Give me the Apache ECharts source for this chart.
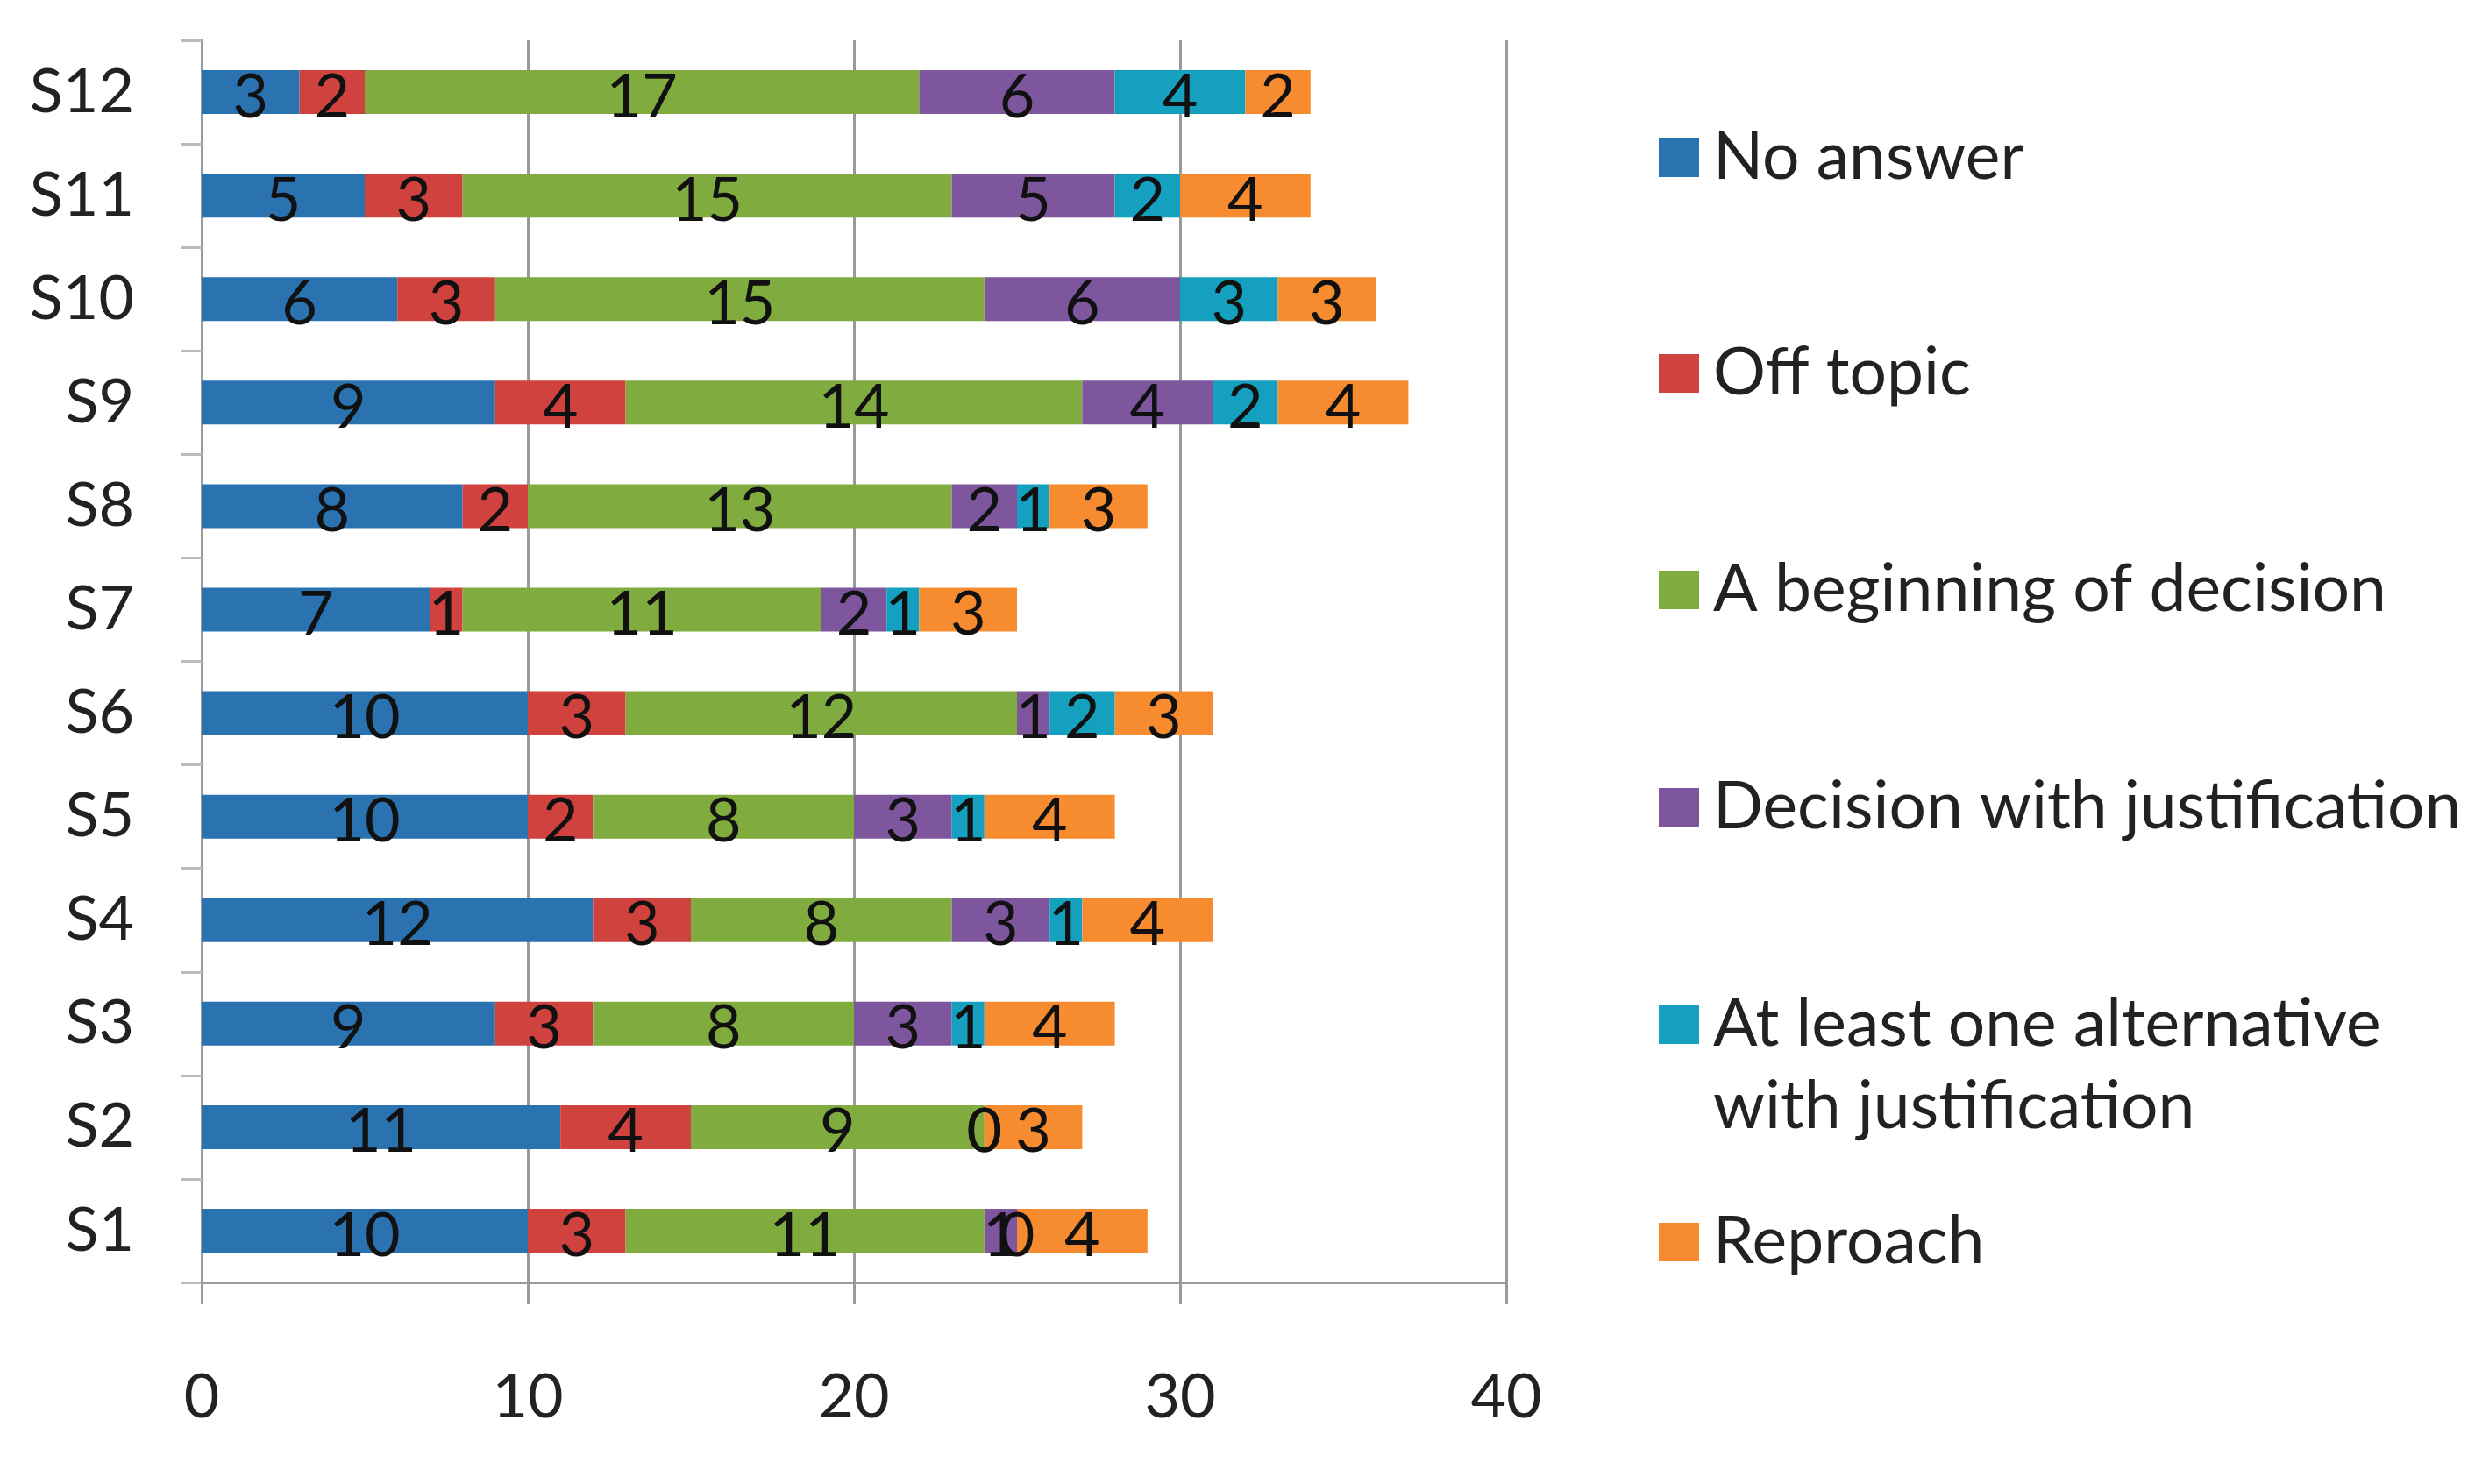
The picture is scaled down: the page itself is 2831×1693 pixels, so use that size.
<!DOCTYPE html>
<html>
<head>
<meta charset="utf-8">
<script src="https://cdn.jsdelivr.net/npm/echarts@6/dist/echarts.min.js"></script>
<style>
html,body{margin:0;padding:0;background:#fff;}
#chart{width:2831px;height:1693px;}
</style>
</head>
<body>
<div id="chart"></div>
<script>
const categories = ['S1','S2','S3','S4','S5','S6','S7','S8','S9','S10','S11','S12'];
const seriesNames = ['No answer','Off topic','A beginning of decision','Decision with justification','At least one alternative with justification','Reproach'];
const noAnswer      = [10, 11, 9, 12, 10, 10, 7, 8, 9, 6, 5, 3];
const offTopic      = [3, 4, 3, 3, 2, 3, 1, 2, 4, 3, 3, 2];
const beginning     = [11, 9, 8, 8, 8, 12, 11, 13, 14, 15, 15, 17];
const decisionJust  = [1, 0, 3, 3, 3, 1, 2, 2, 4, 6, 5, 6];
const alternative   = [0, 0, 1, 1, 1, 2, 1, 1, 2, 3, 2, 4];
const reproach      = [4, 3, 4, 4, 4, 3, 3, 3, 4, 3, 4, 2];
const xTicks = [0, 10, 20, 30, 40];

const values = [noAnswer, offTopic, beginning, decisionJust, alternative, reproach];
const colors = ['#2A72B0','#D0423E','#7FAB3F','#7E569E','#14A0BE','#F68B2F'];
const FONT = 'Lato';
const grey = '#9a9a9a';

const series = seriesNames.map((name, i) => ({
  name: name,
  type: 'bar',
  stack: 'total',
  barWidth: 50,
  data: values[i],
  itemStyle: { color: colors[i] },
  label: {
    show: true,
    position: 'inside',
    offset: [0, 6],
    fontFamily: FONT,
    fontSize: 70,
    color: '#111'
  }
}));

const legendCenters = [175, 421, 668, 916, 1164, 1412];
const LH = 94;
const legends = seriesNames.map((name, i) => {
  const twoLine = name.indexOf('alternative') >= 0;
  return {
    data: [name],
    orient: 'vertical',
    left: 1887,
    top: twoLine ? legendCenters[i] - 1.5 * LH : legendCenters[i] - LH / 2,
    icon: 'rect',
    itemWidth: 46,
    itemHeight: 44,
    selectedMode: false,
    formatter: twoLine ? ' \nAt least one alternative\nwith justification' : '{name}',
    textStyle: {
      fontFamily: FONT,
      fontSize: 75,
      lineHeight: LH,
      color: '#222',
      padding: [0, 0, 0, 11]
    }
  };
});

const chart = echarts.init(document.getElementById('chart'));
chart.setOption({
  backgroundColor: '#fff',
  animation: false,
  grid: { left: 230, right: 1113, top: 46, bottom: 230, containLabel: false },
  legend: legends,
  xAxis: {
    type: 'value',
    min: xTicks[0],
    max: xTicks[xTicks.length - 1],
    interval: xTicks[1] - xTicks[0],
    axisLine: { show: true, lineStyle: { color: grey, width: 3 } },
    axisTick: { show: true, length: 25, lineStyle: { color: grey, width: 3 } },
    splitLine: { show: true, lineStyle: { color: grey, width: 3 } },
    axisLabel: { fontFamily: FONT, fontSize: 70, color: '#222', margin: 96 }
  },
  yAxis: {
    type: 'category',
    data: categories,
    axisLine: { show: true, lineStyle: { color: grey, width: 3 } },
    axisTick: { show: true, length: 23, lineStyle: { color: '#bbb', width: 3 } },
    splitLine: { show: false },
    axisLabel: { fontFamily: FONT, fontSize: 70, color: '#222', margin: 77, padding: [8, 0, 0, 0] }
  },
  series: series
});
</script>
</body>
</html>
